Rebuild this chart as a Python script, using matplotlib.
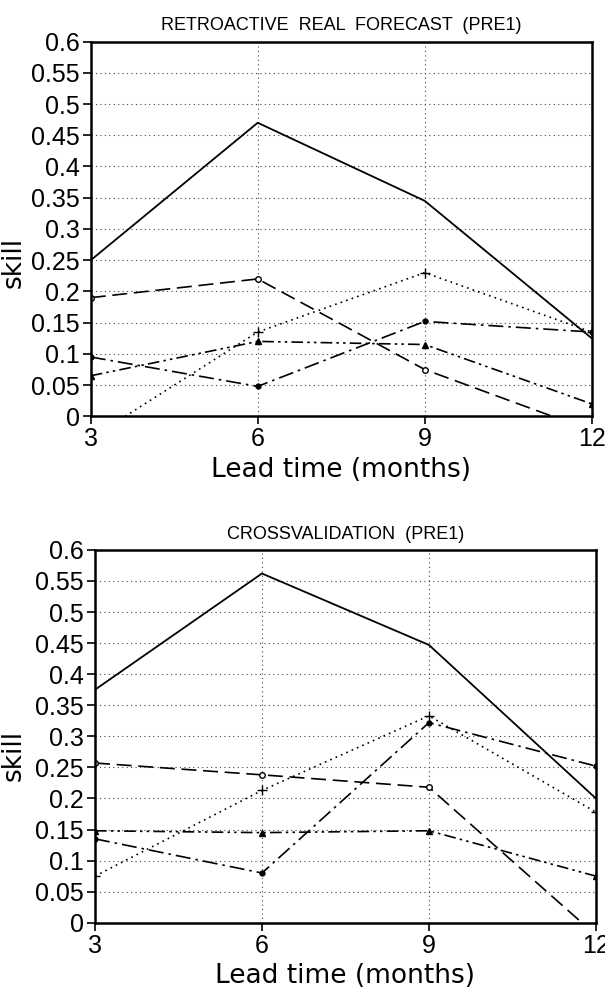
import numpy as np
import matplotlib
matplotlib.use("Agg")
import matplotlib.pyplot as plt

# 数据
lead = [3, 6, 9, 12]
yticks = [0, 0.05, 0.1, 0.15, 0.2, 0.25, 0.3, 0.35, 0.4, 0.45, 0.5, 0.55, 0.6]
ytick_labels = ["0", "0.05", "0.1", "0.15", "0.2", "0.25", "0.3", "0.35", "0.4", "0.45", "0.5", "0.55", "0.6"]

# 上图: retroactive real forecast
real_solid = [0.25, 0.47, 0.345, 0.125]
real_circle = [0.19, 0.22, 0.075, -0.023]
real_plus = [-0.035, 0.135, 0.23, 0.135]
real_dot = [0.095, 0.048, 0.152, 0.135]
real_tri = [0.065, 0.12, 0.115, 0.02]

# 下图: crossvalidation
cv_solid = [0.375, 0.562, 0.447, 0.2]
cv_circle = [0.257, 0.238, 0.218, -0.02]
cv_plus = [0.075, 0.213, 0.333, 0.178]
cv_dot = [0.135, 0.08, 0.322, 0.252]
cv_tri = [0.148, 0.145, 0.148, 0.075]

narrow = ["Liberation Sans Narrow", "Liberation Sans", "DejaVu Sans"]


def draw_panel(ax, title, solid, circle, plus, dot, tri, ylab_x, ylab_y):
    """画一个面板"""
    ax.plot(lead, solid, color="black", lw=1.3)
    ax.plot(lead, circle, color="black", lw=1.2, dashes=(9, 4),
            marker="o", ms=4, mfc="white", mew=1.0)
    ax.plot(lead, plus, color="black", lw=1.2, dashes=(1, 2.5),
            marker="+", ms=7, mew=1.0)
    ax.plot(lead, dot, color="black", lw=1.2, dashes=(9, 3, 1.5, 3),
            marker="o", ms=3.5)
    ax.plot(lead, tri, color="black", lw=1.2, dashes=(7, 2.5, 1.5, 2.5, 1.5, 2.5),
            marker="^", ms=4)

    ax.set_xlim(3, 12)
    ax.set_ylim(0, 0.6)
    ax.set_xticks(lead)
    ax.set_xticklabels([str(v) for v in lead], family=narrow, fontsize=18)
    ax.set_yticks(yticks)
    ax.set_yticklabels(ytick_labels, family=narrow, fontsize=18)
    ax.tick_params(direction="out", length=6, width=1.2, pad=2)
    ax.grid(True, color="#444444", lw=0.8, dashes=(1, 3))
    for s in ax.spines.values():
        s.set_linewidth(1.8)
    ax.set_title(title, family=narrow, fontsize=13, pad=8)
    ax.set_xlabel("Lead time (months)", fontsize=19, labelpad=4)
    ax.set_ylabel("skill", fontsize=19)
    ax.yaxis.set_label_coords(ylab_x, ylab_y)


fig = plt.figure(figsize=(6.05, 9.89), dpi=100)
ax1 = fig.add_axes([0.150, 0.579, 0.828, 0.379])
ax2 = fig.add_axes([0.157, 0.067, 0.828, 0.377])

draw_panel(ax1, "RETROACTIVE  REAL  FORECAST  (PRE1)",
           real_solid, real_circle, real_plus, real_dot, real_tri, -0.128, 0.41)
draw_panel(ax2, "CROSSVALIDATION  (PRE1)",
           cv_solid, cv_circle, cv_plus, cv_dot, cv_tri, -0.136, 0.45)

fig.savefig("out.png", dpi=100)
